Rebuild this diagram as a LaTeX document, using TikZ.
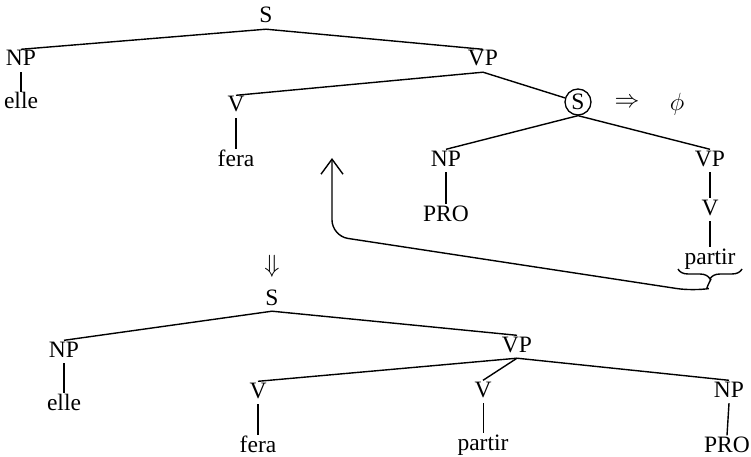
\documentclass[tikz,border=0pt]{standalone}
\usepackage{fontspec}
\setmainfont{Liberation Serif}
\usetikzlibrary{arrows.meta,decorations.pathreplacing}
\begin{document}
\begin{tikzpicture}[x=1pt,y=-1pt,
  lab/.style={font=\fontsize{23.5}{27}\selectfont, inner sep=1.5pt, anchor=base, text height=15pt, text depth=4.5pt},
  br/.style={line width=1.4pt},
  sym/.style={font=\fontsize{24}{28}\selectfont, inner sep=0pt},
]
\useasboundingbox (0,0) rectangle (751,457);
% ---------- top tree ----------
\node[lab] (Stop) at (266,23) {S};
\node[lab] (NPa) at (21,66) {NP};
\node[lab] (ellea) at (21,109) {elle};
\node[lab] (VPa) at (483,66) {VP};
\node[lab] (Va) at (236,112) {V};
\node[lab] (feraa) at (236,166) {fera};
\node[draw, circle, line width=1.3pt, minimum size=26pt, inner sep=0pt,
      font=\fontsize{23.5}{27}\selectfont] (Sc) at (578,102) {S};
\node[sym] (imp) at (627,103) {$\Rightarrow$};
\node[sym] (phi) at (677,104) {$\phi$};
\node[lab] (NPb) at (446,166) {NP};
\node[lab] (PROb) at (446,221) {PRO};
\node[lab] (VPb) at (710,166) {VP};
\node[lab] (Vb) at (710,215) {V};
\node[lab] (partirb) at (710,264) {partir};
\draw[br] (NPa.north) -- (Stop.south) -- (VPa.north);
\draw[br] (NPa.south) -- (ellea.north);
\draw[br] (Va.north) -- (VPa.south) -- (Sc);
\draw[br] (Va.south) -- (feraa.north);
\draw[br] (NPb.north) -- (Sc.south) -- (VPb.north);
\draw[br] (NPb.south) -- (PROb.north);
\draw[br] (VPb.south) -- (Vb.north);
\draw[br] (Vb.south) -- (partirb.north);
% brace and arrow
\coordinate (bl) at (678,269);
\coordinate (brr) at (742,269);
\coordinate (bt) at (711,279);
\coordinate (c1) at (693,291);
\coordinate (c2) at (332,236);
\coordinate (tip) at (332,158);
\draw[br, decorate, decoration={brace, amplitude=10pt, mirror}] (bl) -- (brr);
\draw[br, rounded corners=16pt, -{Straight Barb[length=15pt,width=22pt]}]
  (bt) .. controls (706,289) .. (c1) -- (c2) -- (tip);
% ---------- transformation arrow ----------
\node[sym] (down) at (272,266) {$\Downarrow$};
% ---------- bottom tree ----------
\node[lab] (S2) at (272,305) {S};
\node[lab] (NP2) at (64,357) {NP};
\node[lab] (elle2) at (64,410) {elle};
\node[lab] (VP2) at (517,352) {VP};
\node[lab] (V2) at (258,398) {V};
\node[lab] (fera2) at (258,452) {fera};
\node[lab] (V3) at (483,397) {V};
\node[lab] (partir2) at (483,450) {partir};
\node[lab] (NP3) at (729,397) {NP};
\node[lab] (PRO2) at (727,452) {PRO};
\draw[br] (NP2.north) -- (S2.south) -- (VP2.north);
\draw[br] (NP2.south) -- (elle2.north);
\draw[br] (V2.north) -- (VP2.south) -- (NP3.north);
\draw[br] (VP2.south) -- (V3.north);
\draw[br] (V2.south) -- (fera2.north);
\draw[line width=0.8pt] (V3.south) -- (partir2.north);
\draw[br] (NP3.south) -- (PRO2.north);
\end{tikzpicture}
\end{document}
